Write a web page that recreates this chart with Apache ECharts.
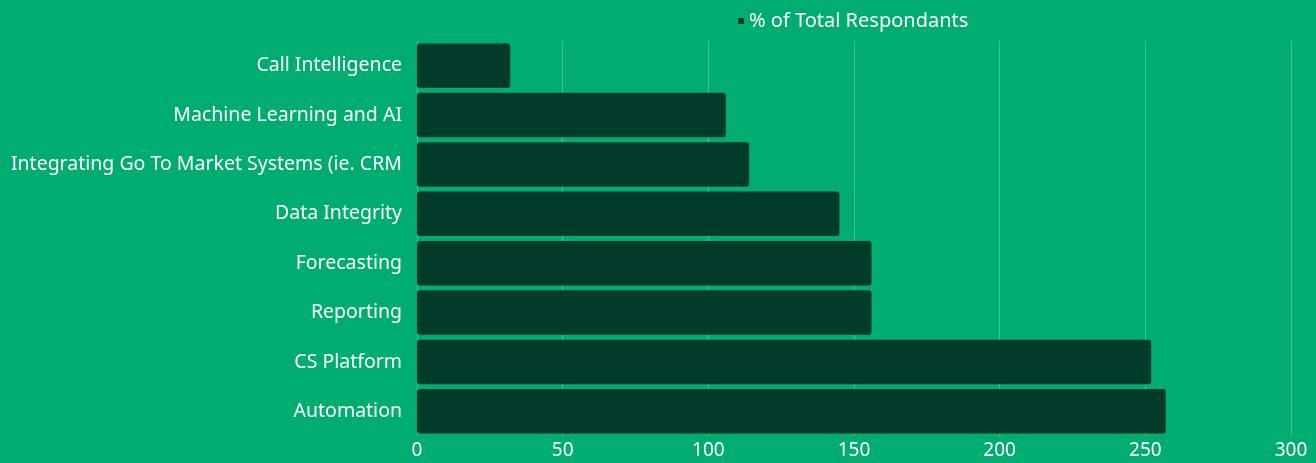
<!DOCTYPE html>
<html><head><meta charset="utf-8">
<script src="https://cdn.jsdelivr.net/npm/echarts@6/dist/echarts.min.js"></script>
<style>html,body{margin:0;padding:0;background:#00AC6F}#c{width:1316px;height:463px}</style>
</head><body><div id="c"></div>
<script>
const categories = ["Call Intelligence","Machine Learning and AI","Integrating Go To Market Systems (ie. CRM","Data Integrity","Forecasting","Reporting","CS Platform","Automation"];
const values = [32,106,114,145,156,156,252,257];
const seriesName = "% of Total Respondants";
const xTicks = [0,50,100,150,200,250,300];

const chart = echarts.init(document.getElementById('c'));
chart.setOption({
  backgroundColor:'#00AC6F',
  textStyle:{fontFamily:'Noto Sans'},
  legend:{data:[seriesName],top:6,left:733,itemWidth:6,itemHeight:6,itemGap:5,icon:'rect',
    textStyle:{color:'#fff',fontSize:20,fontFamily:'Noto Sans'}},
  grid:{left:417,right:25,top:41,bottom:27,containLabel:false},
  xAxis:{type:'value',min:xTicks[0],max:xTicks[xTicks.length-1],interval:50,
    axisLine:{show:false},axisTick:{show:false},
    splitLine:{lineStyle:{color:'rgba(255,255,255,0.25)',width:1}},
    axisLabel:{color:'#fff',fontSize:19,margin:5}},
  yAxis:{type:'category',data:categories,inverse:true,
    axisLine:{show:false},axisTick:{show:false},
    axisLabel:{color:'#fff',fontSize:19.5,margin:15}},
  series:[{name:seriesName,type:'bar',data:values,barCategoryGap:'10%',
    itemStyle:{color:'#003B2C',borderRadius:3}}]
});
</script></body></html>
